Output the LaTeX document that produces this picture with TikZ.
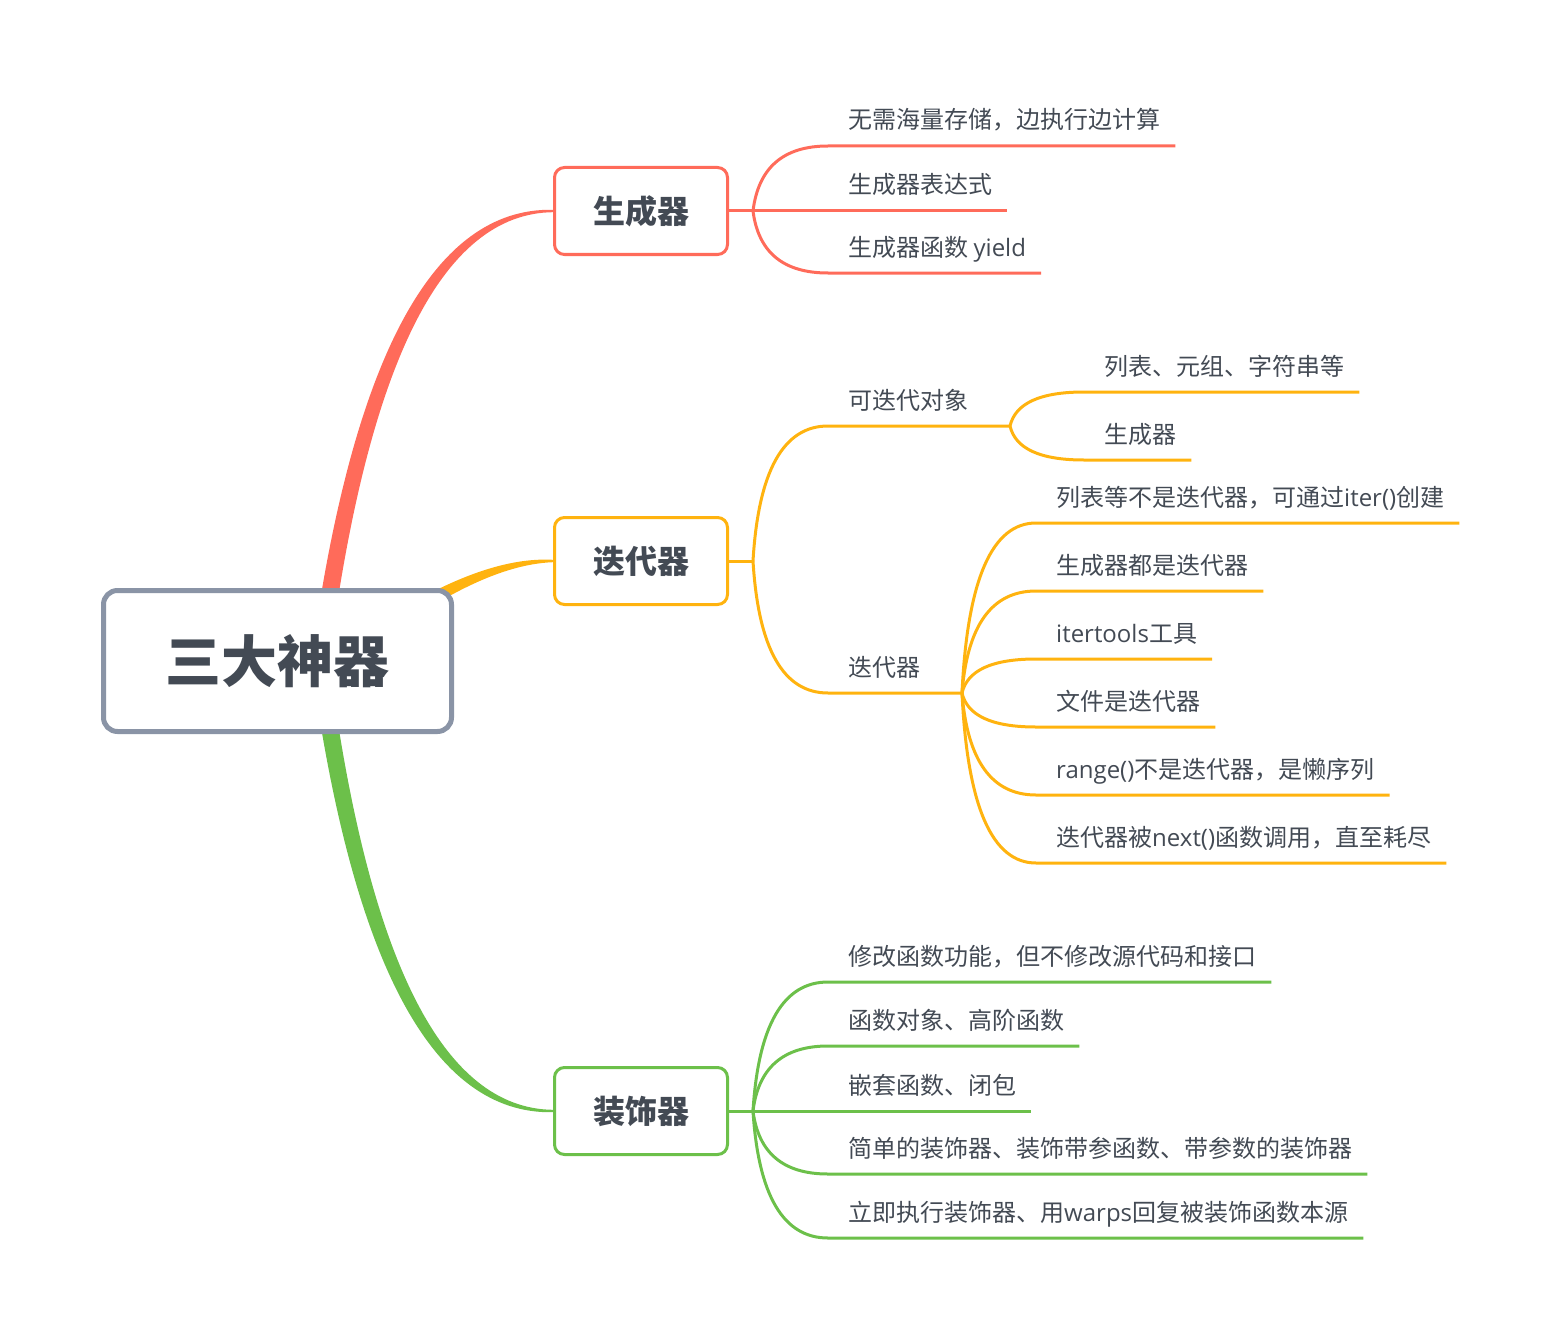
\documentclass[tikz,border=0pt]{standalone}
\usepackage{fontspec}
\setmainfont{Noto Sans CJK SC}
\newfontfamily\lat{Open Sans}
\usetikzlibrary{calc}
\definecolor{cred}{HTML}{FF6B5A}
\definecolor{corange}{HTML}{FFB30F}
\definecolor{cgreen}{HTML}{6CC04A}
\definecolor{cgray}{HTML}{8A94A6}
\definecolor{ctext}{HTML}{434A54}
% quadratic bezier segment: start, control, end
\newcommand\qto[3]{.. controls ($#1!2/3!#2$) and ($#3!2/3!#2$) .. #3}
% child connector: style, fork coordinate, label node
\newcommand\kid[3]{%
  \coordinate (#3h) at ($(#3.base west)+(-20,17)$);
  \coordinate (#3c) at ($(#2|-#3h)+(8,0)$);
  \coordinate (#3e) at ($(#3.base east)+(15,17)$);
  \draw[#1] (#2) \qto{(#2)}{(#3c)}{(#3h)} -- (#3e);
}
\begin{document}
\begin{tikzpicture}[x=1pt,y=-1pt,
  lbl/.style={font=\fontsize{24}{28}\selectfont, text=ctext, inner sep=0pt, anchor=base west},
  box/.style={draw, line width=3pt, rounded corners=10pt, fill=white,
    minimum width=173pt, minimum height=87pt, inner sep=0pt,
    font=\fontsize{32}{36}\selectfont\bfseries, text=ctext},
  rootbox/.style={draw=cgray, line width=5pt, rounded corners=14pt, fill=white,
    minimum width=348pt, minimum height=141pt, inner sep=0pt,
    font=\fontsize{56}{62}\selectfont\bfseries, text=ctext},
  rl/.style={draw=cred, line width=3pt},
  ol/.style={draw=corange, line width=3pt},
  gl/.style={draw=cgreen, line width=3pt},
]
\useasboundingbox (0,0) rectangle (1562,1340);

% boxes (positions)
\path (641,211) coordinate (pgen) (641,561) coordinate (piter) (641,1111) coordinate (pdeco);
\node[box, draw=cred, opacity=0] (gen0) at (pgen) {生成器};
\node[box, draw=corange, opacity=0] (iter0) at (piter) {迭代器};
\node[box, draw=cgreen, opacity=0] (deco0) at (pdeco) {装饰器};

% tapered main branches
\coordinate (ro) at ($(gen0.west)+(0,-1.2)$);
\coordinate (ri) at ($(gen0.west)+(0,1.2)$);
\fill[cred] (311,661) \qto{(311,661)}{(373,206)}{(ro)} -- (ri) \qto{(ri)}{(387,214)}{(329,661)} -- cycle;

\coordinate (oo) at ($(iter0.west)+(0,-1.2)$);
\coordinate (oi) at ($(iter0.west)+(0,1.2)$);
\fill[corange] (334.5,654) \qto{(334.5,654)}{(468,555)}{(oo)} -- (oi) \qto{(oi)}{(472,565)}{(345.5,668)} -- cycle;

\coordinate (go) at ($(deco0.west)+(0,1.2)$);
\coordinate (gi) at ($(deco0.west)+(0,-1.2)$);
\fill[cgreen] (311,661) \qto{(311,661)}{(373,1116)}{(go)} -- (gi) \qto{(gi)}{(387,1108)}{(329,661)} -- cycle;

% root and branch boxes
\node[rootbox] (root) at (277.5,661) {三大神器};
\node[box, draw=cred] (gen) at (pgen) {生成器};
\node[box, draw=corange] (iter) at (piter) {迭代器};
\node[box, draw=cgreen] (deco) at (pdeco) {装饰器};

% forks
\coordinate (fg) at (753,211);
\coordinate (fo) at (753,561);
\coordinate (fd) at (753,1111);
\draw[rl] (gen.east) -- (fg);
\draw[ol] (iter.east) -- (fo);
\draw[gl] (deco.east) -- (fd);

% generator children
\node[lbl] (g1) at (848,129) {无需海量存储，边执行边计算};
\node[lbl] (g2) at (848,194) {生成器表达式};
\node[lbl] (g3) at (848,256) {生成器函数 {\lat yield}};
\kid{rl}{fg}{g1}
\kid{rl}{fg}{g2}
\kid{rl}{fg}{g3}

% iterator children
\node[lbl] (k1) at (848,409) {可迭代对象};
\node[lbl] (k2) at (848,676) {迭代器};
\coordinate (fk) at (1010,426);
\coordinate (fi) at (962,693);
\coordinate (k1h) at ($(k1.base west)+(-20,17)$);
\coordinate (k1c) at ($(fo|-k1h)+(8,0)$);
\draw[ol] (fo) \qto{(fo)}{(k1c)}{(k1h)} -- (fk);
\coordinate (k2h) at ($(k2.base west)+(-20,17)$);
\coordinate (k2c) at ($(fo|-k2h)+(8,0)$);
\draw[ol] (fo) \qto{(fo)}{(k2c)}{(k2h)} -- (fi);

\node[lbl] (a1) at (1104,375) {列表、元组、字符串等};
\node[lbl] (a2) at (1104,443) {生成器};
\kid{ol}{fk}{a1}
\kid{ol}{fk}{a2}

\node[lbl] (b1) at (1056,506) {列表等不是迭代器，可通过{\lat iter()}创建};
\node[lbl] (b2) at (1056,574) {生成器都是迭代器};
\node[lbl] (b3) at (1056,642) {{\lat itertools}工具};
\node[lbl] (b4) at (1056,710) {文件是迭代器};
\node[lbl] (b5) at (1056,778) {{\lat range()}不是迭代器，是懒序列};
\node[lbl] (b6) at (1056,846) {迭代器被{\lat next()}函数调用，直至耗尽};
\kid{ol}{fi}{b1}
\kid{ol}{fi}{b2}
\kid{ol}{fi}{b3}
\kid{ol}{fi}{b4}
\kid{ol}{fi}{b5}
\kid{ol}{fi}{b6}

% decorator children
\node[lbl] (d1) at (848,965) {修改函数功能，但不修改源代码和接口};
\node[lbl] (d2) at (848,1029) {函数对象、高阶函数};
\node[lbl] (d3) at (848,1094) {嵌套函数、闭包};
\node[lbl] (d4) at (848,1157) {简单的装饰器、装饰带参函数、带参数的装饰器};
\node[lbl] (d5) at (848,1221) {立即执行装饰器、用{\lat warps}回复被装饰函数本源};
\kid{gl}{fd}{d1}
\kid{gl}{fd}{d2}
\kid{gl}{fd}{d3}
\kid{gl}{fd}{d4}
\kid{gl}{fd}{d5}
\end{tikzpicture}
\end{document}
